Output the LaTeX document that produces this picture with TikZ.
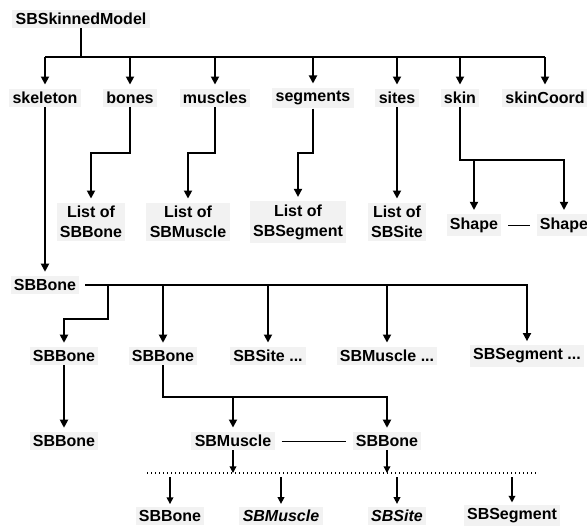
\documentclass[tikz,border=0pt]{standalone}
\usepackage{fontspec}
\setmainfont{Liberation Sans}
\usetikzlibrary{arrows.meta}
\tikzset{
  lbl/.style={font=\fontsize{12}{15}\selectfont\bfseries, fill=gray!10, inner sep=2.5pt, align=center},
  wire/.style={line width=1.3pt},
  conn/.style={line width=1.3pt, -{Triangle[length=6pt,width=6pt]}, shorten >=3pt},
  sconn/.style={line width=1pt, -{Triangle[length=5pt,width=5pt]}},
  link/.style={line width=0.6pt, shorten <=5pt, shorten >=5pt},
}

\begin{document}
\begin{tikzpicture}[x=0.75pt,y=-0.75pt]
\useasboundingbox (0,0) rectangle (587,526);
\node[lbl] at (81,19) (model) {SBSkinnedModel};
\node[lbl] at (45,98) (skel) {skeleton};
\node[lbl] at (130,98) (bones) {bones};
\node[lbl] at (215,98) (musc) {muscles};
\node[lbl] at (313,98) (segs) {segments};
\node[lbl] at (397,98) (sites) {sites};
\node[lbl] at (460,98) (skin) {skin};
\node[lbl] at (545,98) (skcoord) {skinCoord};
\node[lbl] at (91,222) (lbone) {List of\\SBBone};
\node[lbl] at (188,222) (lmusc) {List of\\SBMuscle};
\node[lbl] at (298,222) (lseg) {List of\\SBSegment};
\node[lbl] at (397,222) (lsite) {List of\\SBSite};
\node[lbl] at (474,225) (sh1) {Shape};
\node[lbl] at (564,225) (sh2) {Shape};
\node[lbl] at (45,285) (root) {SBBone};
\node[lbl] at (64,356) (b1) {SBBone};
\node[lbl] at (163,356) (b2) {SBBone};
\node[lbl] at (268,356) (site) {SBSite ...};
\node[lbl] at (387,356) (muscd) {SBMuscle ...};
\node[lbl] at (527,356) (segd) {SBSegment ...};
\node[lbl] at (64,441) (b3) {SBBone};
\node[lbl] at (233,441) (m1) {SBMuscle};
\node[lbl] at (387,441) (b4) {SBBone};
\node[lbl] at (170,516) (b5) {SBBone};
\node[lbl] at (281,516) (m2) {\itshape SBMuscle};
\node[lbl] at (397,516) (s2) {\itshape SBSite};
\node[lbl] at (512,516) (seg2) {SBSegment};
\coordinate (top) at (81,57);
\coordinate (lv1) at (0,153);
\coordinate (lv2) at (0,160);
\coordinate (jr) at (108,285);
\coordinate (lv3) at (0,319);
\coordinate (lv4) at (0,397);
\coordinate (lv5) at (0,473);
\coordinate (dl) at (147,473);
\coordinate (dr) at (537,473);
\draw[wire] (model) -- (top);
\draw[wire] (skel |- top) -- (skcoord |- top);
\foreach \n in {skel,bones,musc,segs,sites,skin,skcoord}
  \draw[conn] (\n |- top) -- (\n);
\draw[conn] (bones) -- (bones |- lv1) -| (lbone);
\draw[conn] (musc) -- (musc |- lv1) -| (lmusc);
\draw[conn] (segs) -- (segs |- lv1) -| (lseg);
\draw[conn] (sites) -- (lsite);
\draw[conn] (skin) -- (skin |- lv2) -| (sh2);
\draw[conn] (sh1 |- lv2) -- (sh1);
\draw[link] (sh1) -- (sh2);
\draw[conn] (skel) -- (root);
\draw[conn, shorten <=4pt] (root) -- (segd |- root) -- (segd);
\draw[conn] (jr) -- (jr |- lv3) -| (b1);
\foreach \n in {b2,site,muscd}
  \draw[conn] (\n |- root) -- (\n);
\draw[conn] (b1) -- (b3);
\draw[conn] (b2) -- (b2 |- lv4) -| (b4);
\draw[conn] (m1 |- lv4) -- (m1);
\draw[link] (m1) -- (b4);
\draw[dotted, line width=1pt] (dl) -- (dr);
\draw[sconn] (m1) -- (m1 |- lv5);
\draw[sconn] (b4) -- (b4 |- lv5);
\foreach \n in {b5,m2,s2,seg2}
  \draw[sconn, shorten <=3pt, shorten >=2pt] (\n |- lv5) -- (\n);
\end{tikzpicture}
\end{document}
